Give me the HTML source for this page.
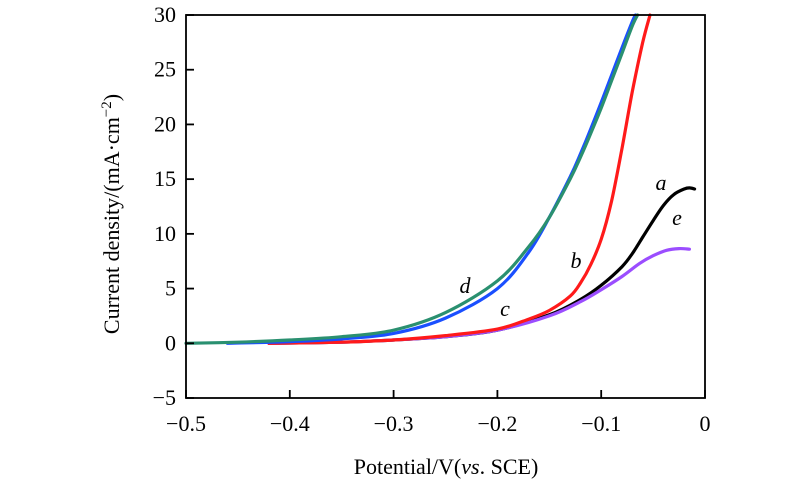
<!DOCTYPE html>
<html><head><meta charset="utf-8"><style>
body{margin:0;background:#fff}
svg{display:block;font-family:"Liberation Serif",serif}
</style></head><body>
<svg id="c" width="800" height="491"></svg>
<script>
const xTicks=[-0.5,-0.4,-0.3,-0.2,-0.1,0];
const xTickLabels=["\u22120.5","\u22120.4","\u22120.3","\u22120.2","\u22120.1","0"];
const yTicks=[-5,0,5,10,15,20,25,30];
const yTickLabels=["\u22125","0","5","10","15","20","25","30"];
const dX=[-0.5,-0.45,-0.4,-0.35,-0.3,-0.25,-0.2,-0.17,-0.15,-0.13,-0.12,-0.11,-0.1,-0.09,-0.08,-0.07,-0.065];
const dY=[0,0.1,0.3,0.6,1.2,2.8,5.7,8.8,11.5,15,17,19.2,21.5,24,26.5,29,30];
const cX=[-0.46,-0.4,-0.35,-0.3,-0.25,-0.2,-0.17,-0.15,-0.13,-0.12,-0.11,-0.1,-0.09,-0.08,-0.07,-0.067];
const cY=[0,0.15,0.4,0.9,2.3,5.0,8.3,11.5,15.2,17.3,19.6,22,24.5,27,29.4,30];
const bX=[-0.42,-0.35,-0.3,-0.25,-0.2,-0.17,-0.15,-0.13,-0.12,-0.11,-0.1,-0.09,-0.08,-0.07,-0.06,-0.053];
const bY=[0,0.1,0.3,0.7,1.3,2.2,3.0,4.3,5.5,7.2,9.5,13,17.8,23,27.5,30];
const aX=[-0.42,-0.35,-0.3,-0.25,-0.2,-0.15,-0.12,-0.1,-0.08,-0.07,-0.06,-0.05,-0.04,-0.03,-0.02,-0.015,-0.01];
const aY=[0,0.1,0.3,0.6,1.2,2.6,4.0,5.3,7.0,8.2,9.7,11.2,12.6,13.6,14.1,14.2,14.1];
const eX=[-0.42,-0.35,-0.3,-0.25,-0.2,-0.15,-0.12,-0.1,-0.08,-0.063,-0.05,-0.037,-0.025,-0.015];
const eY=[0,0.1,0.3,0.6,1.2,2.5,3.8,4.9,6.1,7.3,8.0,8.5,8.65,8.6];
const L=186,R=705,T=15,B=398;
const sx=v=>L+(v+0.5)/0.5*(R-L);
const sy=v=>B-(v+5)/35*(B-T);
const svg=document.getElementById('c');
const NS='http://www.w3.org/2000/svg';
function mk(t,a,p){const e=document.createElementNS(NS,t);for(const k in a)e.setAttribute(k,a[k]);(p||svg).appendChild(e);return e;}
function path(xs,ys,col,name){
  const P=xs.map((x,i)=>[sx(x),sy(ys[i])]);
  let d='M'+P[0][0].toFixed(1)+','+P[0][1].toFixed(1);
  for(let i=0;i<P.length-1;i++){
    const p0=P[Math.max(0,i-1)],p1=P[i],p2=P[i+1],p3=P[Math.min(P.length-1,i+2)];
    const c1=[p1[0]+(p2[0]-p0[0])/6,p1[1]+(p2[1]-p0[1])/6];
    const c2=[p2[0]-(p3[0]-p1[0])/6,p2[1]-(p3[1]-p1[1])/6];
    d+='C'+c1.map(v=>v.toFixed(1))+' '+c2.map(v=>v.toFixed(1))+' '+p2.map(v=>v.toFixed(1));
  }
  const p=mk('path',{d:d,fill:'none',stroke:col,'stroke-width':3.2,'stroke-linejoin':'round','stroke-linecap':'round'});
  
  
}
path(aX,aY,'#000','series-a');
path(eX,eY,'#9b4dff','series-e');
path(bX,bY,'#ff1a1a','series-b');
path(cX,cY,'#1a4fff','series-c');
path(dX,dY,'#2a9070','series-d');
const fr=mk('rect',{x:L,y:T,width:R-L,height:B-T,fill:'none',stroke:'#000','stroke-width':1.8});


xTicks.forEach((v,i)=>{
  mk('line',{x1:sx(v),x2:sx(v),y1:B,y2:B-8,stroke:'#000','stroke-width':1.8});
  const t=mk('text',{x:sx(v),y:B+33,'text-anchor':'middle','font-size':22});
  t.textContent=xTickLabels[i];
  
  
});
yTicks.forEach((v,i)=>{
  mk('line',{x1:L,x2:L+8,y1:sy(v),y2:sy(v),stroke:'#000','stroke-width':1.8});
  const t=mk('text',{x:L-10,y:sy(v)+7,'text-anchor':'end','font-size':22});
  t.textContent=yTickLabels[i];
  
  
});
const labs=[['a',661,190],['e',677,225],['b',576,268],['d',465,293],['c',505,316]];
labs.forEach(l=>{
  const t=mk('text',{x:l[1],y:l[2],'text-anchor':'middle','font-size':22,'font-style':'italic'});
  t.textContent=l[0];
  
  
});
</script>
<svg style="position:absolute;left:0;top:0" width="800" height="491">
<text x="446" y="474" text-anchor="middle" font-size="22" font-family="Liberation Serif, serif">Potential/V(<tspan font-style="italic">vs</tspan>. SCE)</text>
<text transform="translate(119,214) rotate(-90)" text-anchor="middle" font-size="22" font-family="Liberation Serif, serif">Current density/(mA·cm<tspan dy="-8" font-size="15">−2</tspan><tspan dy="8">)</tspan></text>
</svg>
</body></html>
